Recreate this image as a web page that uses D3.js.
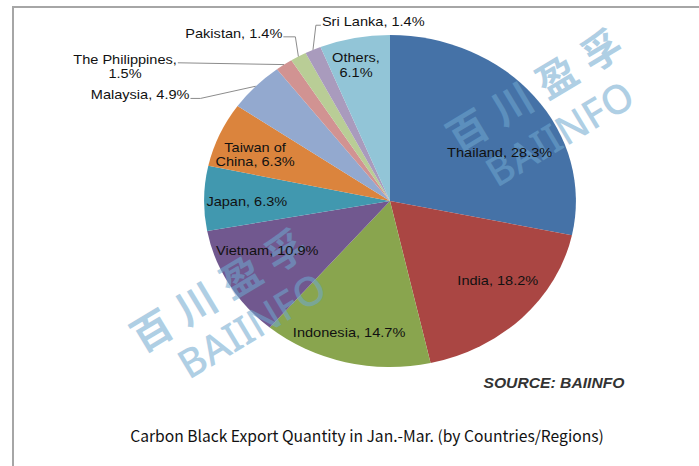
<!DOCTYPE html>
<html><head><meta charset="utf-8">
<script src="https://cdn.jsdelivr.net/npm/d3@7"></script>
<style>html,body{margin:0;padding:0;background:#fff;overflow:hidden}svg{display:block}</style>
</head><body><svg id="c" width="699" height="466"></svg>
<script>
// ---- data ----
const categories = ["Thailand","India","Indonesia","Vietnam","Japan","Taiwan of China","Malaysia","The Philippines","Pakistan","Sri Lanka","Others"];
const shares = [28.3,18.2,14.7,10.9,6.3,6.3,4.9,1.5,1.4,1.4,6.1];
const labelLines = [["Thailand, 28.3%"],["India, 18.2%"],["Indonesia, 14.7%"],["Vietnam, 10.9%"],["Japan, 6.3%"],["Taiwan of","China, 6.3%"],["Malaysia, 4.9%"],["The Philippines,","1.5%"],["Pakistan, 1.4%"],["Sri Lanka, 1.4%"],["Others,","6.1%"]];
const titleText = "Carbon Black Export Quantity in Jan.-Mar. (by Countries/Regions)";
const sourceText = "SOURCE: BAIINFO";
const watermarkCN = "百川盈孚";
const watermarkEN = "BAIINFO";

// ---- styles / layout ----
const colors = ["#4572a7","#aa4643","#89a54e","#71588f","#4198af","#db843d","#93a9cf","#d19392","#b9cd96","#a99bbd","#92c5d7"];
// label centers as fractions of the pie radii (x, y)
const labelPos = [[0.59,-0.29],[0.58,0.48],[-0.22,0.79],[-0.66,0.30],[-0.77,0.0],[-0.726,-0.28],[-1.344,-0.639],[-1.425,-0.81],[-0.84,-1.01],[-0.09,-1.08],[-0.183,-0.82]];
// leader lines: side of label the line leaves from, elbow length
const leaders = [null,null,null,null,null,null,{side:"right",elbow:10},{side:"right",elbow:0},{side:"right",elbow:12},{side:"left",elbow:5},null];

const W = 699, H = 466;
const cx = 390, cy = 201, R = 166, sx = 1.12;
const rx = R * sx, ry = R;

const svg = d3.select("#c");

// frame
svg.append("rect").attr("x",13).attr("y",7).attr("width",720).attr("height",480)
  .attr("fill","none").attr("stroke","#a6a6a6").attr("stroke-width",2);

// pie
const pie = d3.pie().sort(null).value(d => d)(shares);
const arc = d3.arc().innerRadius(0).outerRadius(R);
const gPie = svg.append("g").attr("transform",`translate(${cx},${cy}) scale(${sx},1)`);
gPie.selectAll("path").data(pie).join("path")
  .attr("d", arc).attr("fill", (d,i) => colors[i]);

// watermarks
function watermark(x1,y1,x2,y2){
  const g = svg.append("g").attr("opacity",0.55).attr("fill","#6fa8cf");
  g.append("text").attr("transform",`translate(${x1},${y1}) rotate(-31)`)
    .attr("text-anchor","middle").attr("dy","0.35em")
    .style("font-family","'Noto Sans CJK SC'").style("font-size","40px").style("font-weight",700)
    .style("letter-spacing","12px").text(watermarkCN);
  g.append("text").attr("transform",`translate(${x2},${y2}) rotate(-31)`)
    .attr("text-anchor","middle").attr("dy","0.35em")
    .style("font-family","'Noto Sans', sans-serif").style("font-size","40px").style("font-weight",500)
    .text(watermarkEN);
}
watermark(540,88,560,134);
watermark(224,288,252,326);

// labels
const fontLab = "'Liberation Sans', Arial, sans-serif";
const lineH = 14.5;
pie.forEach((d,i) => {
  const lx = cx + labelPos[i][0]*rx, ly = cy + labelPos[i][1]*ry;
  const lines = labelLines[i];
  const g = svg.append("g").attr("transform",`translate(${lx},${ly}) scale(${sx},1)`);
  let maxW = 0, firstY = 0;
  lines.forEach((t,k) => {
    const yy = (k - (lines.length-1)/2)*lineH;
    if (k===0) firstY = yy;
    const tx = g.append("text").attr("x",0).attr("y",yy).attr("dy","0.35em")
      .attr("text-anchor","middle").attr("fill","#111")
      .style("font-family",fontLab).style("font-size","13px").text(t);
    if (k===0) maxW = tx.node().getComputedTextLength()*sx;
  });
  const L = leaders[i];
  if (L) {
    const a = (d.startAngle + d.endAngle)/2;
    const ex = cx + rx*Math.sin(a), ey = cy - ry*Math.cos(a);
    const sy = ly + firstY + 3.5;
    let sxp, elx;
    if (L.side === "right") { sxp = lx + maxW/2 + 1; elx = sxp + L.elbow; }
    else { sxp = lx - maxW/2 - 1; elx = sxp - L.elbow; }
    svg.append("path").attr("d", d3.line()([[sxp,sy],[elx,sy],[ex,ey]]))
      .attr("fill","none").attr("stroke","#8c8c8c").attr("stroke-width",1);
  }
});

// source
svg.append("text").attr("transform",`translate(554,383) scale(${sx},1)`)
  .attr("text-anchor","middle").attr("dy","0.35em").attr("fill","#333")
  .style("font-family",fontLab).style("font-size","14px").style("font-weight","bold").style("font-style","italic")
  .text(sourceText);

// title: font size fitted so the line spans the same width as the reference
const title = svg.append("text").attr("x",367).attr("y",437).attr("dy","0.35em").attr("text-anchor","middle")
  .attr("fill","#111")
  .style("font-family","'Noto Sans CJK SC', 'Noto Sans', sans-serif").style("font-size","19px")
  .text(titleText);
const tw = title.node().getComputedTextLength();
title.style("font-size", (19*474/tw).toFixed(2) + "px");
</script></body></html>
